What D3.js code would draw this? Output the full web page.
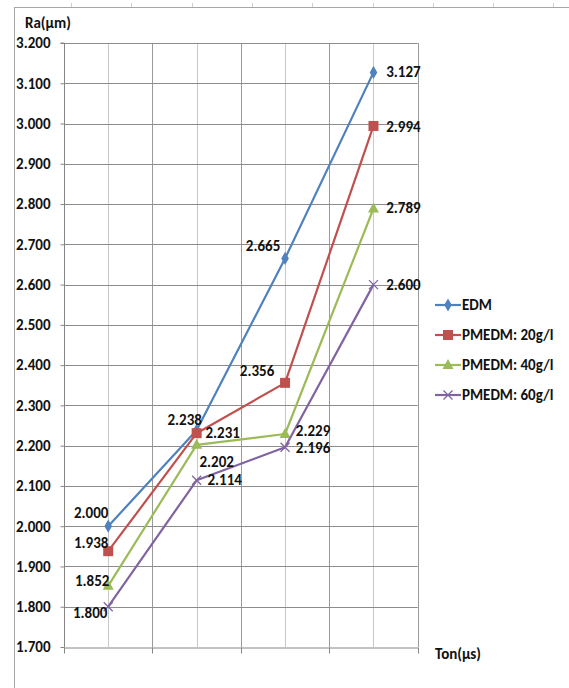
<!DOCTYPE html>
<html>
<head>
<meta charset="utf-8">
<script src="https://cdn.jsdelivr.net/npm/d3@7"></script>
<style>
  html, body { margin: 0; padding: 0; background: #fff; }
  svg { display: block; }
  .lbl { font-family: "Carlito", "Liberation Sans Narrow", "DejaVu Sans Condensed", sans-serif; font-weight: bold; fill: #111; }
</style>
</head>
<body>
<svg id="chart" width="569" height="688"></svg>
<script>
// Pulse-on time levels (category axis, unlabeled)
const categories = ["T1", "T2", "T3", "T4"];

// Surface roughness Ra (µm) per series
const edm     = [2.000, 2.238, 2.665, 3.127];
const pm20    = [1.938, 2.231, 2.356, 2.994];
const pm40    = [1.852, 2.202, 2.229, 2.789];
const pm60    = [1.800, 2.114, 2.196, 2.600];

const seriesNames = ["EDM", "PMEDM: 20g/l", "PMEDM: 40g/l", "PMEDM: 60g/l"];

// Y axis tick values
const yTicks = [1.7, 1.8, 1.9, 2.0, 2.1, 2.2, 2.3, 2.4, 2.5, 2.6, 2.7, 2.8, 2.9, 3.0, 3.1, 3.2];

// Appearance of each series
const colors  = ["#4F81BD", "#C0504D", "#9BBB59", "#8064A2"];
const markers = ["diamond", "square", "triangle", "cross"];

// Data label offsets (text centre relative to its point)
const labelOffsets = [
  [[-17, -13], [-12, -10], [-22, -12], [30, 0]],
  [[-17, -8],  [26, 0],    [-28, -12], [30, 1]],
  [[-16, -5],  [20, 17],   [28, -2.5], [30, 0]],
  [[-18, 6],   [28, 0],    [28, 1],    [30, 0]]
];

const series = [edm, pm20, pm40, pm60].map((vals, i) => ({
  name: seriesNames[i], values: vals, color: colors[i], marker: markers[i], offsets: labelOffsets[i]
}));

const svg = d3.select("#chart");
const plot = { left: 64, right: 417.7, top: 43, bottom: 647 };

const x = d3.scaleBand().domain(categories).range([plot.left, plot.right]).padding(0);
const y = d3.scaleLinear().domain([1.7, 3.2]).range([plot.bottom, plot.top]);
const cx = d => x(d) + x.bandwidth() / 2;

// Sheet frame behind the chart
svg.append("line").attr("x1", 14.5).attr("x2", 14.5).attr("y1", 7).attr("y2", 688)
  .attr("stroke", "#a6a6a6").attr("stroke-width", 1);
svg.append("line").attr("x1", 14).attr("x2", 569).attr("y1", 7.5).attr("y2", 7.5)
  .attr("stroke", "#a6a6a6").attr("stroke-width", 1);
svg.append("g").selectAll("line").data(d3.range(71, 569, 60.3)).join("line")
  .attr("x1", d => Math.round(d) + 0.5).attr("x2", d => Math.round(d) + 0.5)
  .attr("y1", 3).attr("y2", 7).attr("stroke", "#d0d0d0");

// Vertical gridlines: band centres (light) and band edges (darker)
svg.append("g").selectAll("line").data(categories).join("line")
  .attr("x1", d => Math.round(cx(d)) + 0.5).attr("x2", d => Math.round(cx(d)) + 0.5)
  .attr("y1", plot.top).attr("y2", plot.bottom)
  .attr("stroke", "#c8c8c8").attr("stroke-width", 1);
const edges = categories.map(d => x(d)).concat([plot.right]);
svg.append("g").selectAll("line").data(edges.slice(1)).join("line")
  .attr("x1", d => Math.round(d) + 0.5).attr("x2", d => Math.round(d) + 0.5)
  .attr("y1", plot.top).attr("y2", plot.bottom)
  .attr("stroke", "#9a9a9a").attr("stroke-width", 1);

// Horizontal gridlines
svg.append("g").selectAll("line").data(yTicks.slice(1)).join("line")
  .attr("x1", plot.left).attr("x2", plot.right)
  .attr("y1", d => Math.round(y(d)) + 0.5).attr("y2", d => Math.round(y(d)) + 0.5)
  .attr("stroke", "#8c8c8c").attr("stroke-width", 1);

// Y axis
const yAxis = d3.axisLeft(y).tickValues(yTicks).tickFormat(d3.format(".3f")).tickSize(4).tickPadding(10);
const gy = svg.append("g").attr("transform", `translate(${plot.left + 0.5},0)`).call(yAxis);
gy.select(".domain").attr("stroke", "#868686").attr("d", `M-4,${plot.top}H0V${plot.bottom}`);
gy.selectAll(".tick line").attr("stroke", "#868686");
gy.selectAll(".tick text").attr("class", "lbl").attr("font-size", 15).attr("fill", "#111");

// X axis (category edges as ticks, no labels)
const xAxis = d3.axisBottom(x).tickValues([]).tickSizeOuter(0);
const gx = svg.append("g").attr("transform", `translate(0,${plot.bottom + 0.5})`).call(xAxis);
gx.select(".domain").attr("stroke", "#868686");
gx.selectAll(null).data(edges).join("line")
  .attr("x1", d => Math.round(d) + 0.5).attr("x2", d => Math.round(d) + 0.5)
  .attr("y1", 0).attr("y2", 6).attr("stroke", "#868686");

// Axis titles
svg.append("text").attr("class", "lbl").attr("x", 25).attr("y", 28).attr("font-size", 15).text("Ra(µm)");
svg.append("text").attr("class", "lbl").attr("x", 435).attr("y", 659).attr("font-size", 15).text("Ton(µs)");

// Marker shapes
function markerPath(type) {
  switch (type) {
    case "diamond": return d3.symbol(d3.symbolDiamond, 50)();
    case "square": return "M-5,-5H5V5H-5Z";
    case "triangle": return "M0,-6L5.5,4L-5.5,4Z";
    case "cross": return "M-4.5,-4.5L4.5,4.5M-4.5,4.5L4.5,-4.5";
  }
}
function drawMarker(g, s) {
  const p = g.append("path").attr("d", markerPath(s.marker));
  if (s.marker === "cross") p.attr("fill", "none").attr("stroke", s.color).attr("stroke-width", 1.3);
  else p.attr("fill", s.color);
}

const line = d3.line().x((d, i) => cx(categories[i])).y(d => y(d));

series.forEach(s => {
  const g = svg.append("g");
  g.append("path").datum(s.values).attr("d", line)
    .attr("fill", "none").attr("stroke", s.color).attr("stroke-width", 2.2).attr("stroke-linejoin", "round");
  s.values.forEach((v, i) => {
    const m = g.append("g").attr("transform", `translate(${cx(categories[i])},${y(v)})`);
    drawMarker(m, s);
  });
});

// Data labels
series.forEach(s => {
  s.values.forEach((v, i) => {
    svg.append("text").attr("class", "lbl")
      .attr("x", cx(categories[i]) + s.offsets[i][0])
      .attr("y", y(v) + s.offsets[i][1])
      .attr("text-anchor", "middle").attr("dominant-baseline", "central")
      .attr("font-size", 15).text(d3.format(".3f")(v));
  });
});

// Legend
const legend = svg.append("g").attr("transform", "translate(435,305)");
series.forEach((s, i) => {
  const g = legend.append("g").attr("transform", `translate(0,${i * 30})`);
  g.append("line").attr("x1", 0).attr("x2", 26).attr("y1", 0).attr("y2", 0)
    .attr("stroke", s.color).attr("stroke-width", 2.2);
  const m = g.append("g").attr("transform", "translate(13,0)");
  drawMarker(m, s);
  g.append("text").attr("class", "lbl").attr("x", 27).attr("y", 0)
    .attr("dominant-baseline", "central").attr("font-size", 15).text(s.name);
});
</script>
</body>
</html>
